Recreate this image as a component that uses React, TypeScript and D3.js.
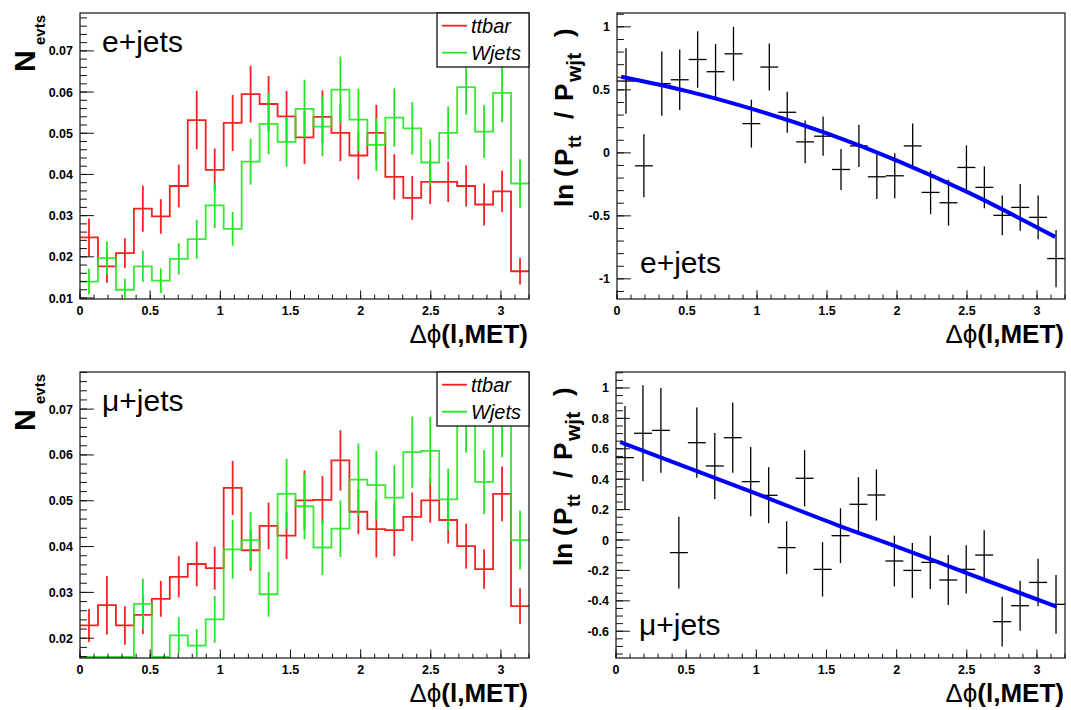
import React from "react";
import * as d3 from "d3";

// ---------- data ----------
const binLow = [0, 0.128, 0.256, 0.384, 0.512, 0.64, 0.768, 0.896, 1.024, 1.152, 1.28, 1.408, 1.536, 1.664, 1.792, 1.92, 2.048, 2.176, 2.304, 2.432, 2.56, 2.688, 2.816, 2.944, 3.072];
const binWidth = 0.128;

const eTtbar = [0.0247, 0.0177, 0.0209, 0.0317, 0.0298, 0.0372, 0.0532, 0.0411, 0.0525, 0.0595, 0.0571, 0.0541, 0.049, 0.054, 0.0501, 0.0446, 0.0501, 0.0394, 0.0343, 0.0382, 0.0382, 0.0372, 0.0327, 0.0359, 0.0165];
const eTtbarErr = [0.0046, 0.004, 0.0036, 0.0056, 0.0042, 0.0052, 0.0071, 0.0052, 0.0068, 0.0069, 0.0068, 0.0062, 0.0065, 0.0064, 0.0069, 0.0058, 0.0068, 0.0055, 0.0053, 0.0054, 0.0049, 0.005, 0.0051, 0.005, 0.0032];
const eWjets = [0.014, 0.0197, 0.012, 0.0177, 0.0142, 0.0195, 0.0243, 0.0325, 0.0268, 0.0431, 0.0523, 0.0479, 0.0559, 0.0516, 0.0606, 0.0533, 0.0472, 0.0538, 0.0512, 0.0429, 0.0501, 0.0612, 0.0504, 0.0598, 0.0378];
const eWjetsErr = [0.0031, 0.004, 0.0027, 0.0038, 0.003, 0.0038, 0.0047, 0.0055, 0.0041, 0.0056, 0.0074, 0.006, 0.0071, 0.0072, 0.008, 0.0075, 0.0064, 0.0071, 0.0064, 0.0056, 0.0064, 0.0067, 0.0064, 0.0071, 0.0059];

const muTtbar = [0.0228, 0.0272, 0.0228, 0.0251, 0.0286, 0.0334, 0.0362, 0.0353, 0.0528, 0.0392, 0.0445, 0.0424, 0.0501, 0.0502, 0.0588, 0.0476, 0.0438, 0.0436, 0.0465, 0.0501, 0.0458, 0.0401, 0.0351, 0.0515, 0.027];
const muTtbarErr = [0.0036, 0.0064, 0.0042, 0.0042, 0.0039, 0.0045, 0.0049, 0.0047, 0.0059, 0.0045, 0.0051, 0.0051, 0.0065, 0.0052, 0.0066, 0.0049, 0.0062, 0.0057, 0.0053, 0.0049, 0.0051, 0.0049, 0.0043, 0.006, 0.0039];
const muWjets = [0.011, 0.0105, 0.012, 0.0275, 0.012, 0.0206, 0.0184, 0.0241, 0.0394, 0.0414, 0.0296, 0.0515, 0.0488, 0.0398, 0.0439, 0.0546, 0.0534, 0.0507, 0.0606, 0.0609, 0.0503, 0.068, 0.0541, 0.067, 0.0414];
const muWjetsErr = [0.003, 0.003, 0.003, 0.0055, 0.003, 0.004, 0.0036, 0.0051, 0.0064, 0.0062, 0.0049, 0.0077, 0.0072, 0.006, 0.0062, 0.0079, 0.0075, 0.007, 0.0078, 0.0074, 0.0067, 0.0075, 0.007, 0.0075, 0.0064];

const eRatio = [0.57, -0.103, 0.549, 0.58, 0.741, 0.644, 0.786, 0.232, 0.681, 0.322, 0.087, 0.132, -0.132, 0.055, -0.19, -0.182, 0.055, -0.314, -0.396, -0.116, -0.274, -0.496, -0.433, -0.512, -0.839];
const eRatioErr = [0.26, 0.25, 0.255, 0.24, 0.224, 0.22, 0.214, 0.19, 0.187, 0.163, 0.17, 0.156, 0.163, 0.168, 0.177, 0.178, 0.177, 0.173, 0.182, 0.175, 0.166, 0.158, 0.185, 0.174, 0.227];
const eFitX = [0.03, 0.5, 1.0, 1.5, 2.0, 2.5, 3.13];
const eFitY = [0.604, 0.49, 0.337, 0.154, -0.062, -0.31, -0.667];

const muRatio = [0.542, 0.702, 0.721, -0.083, 0.64, 0.487, 0.673, 0.384, 0.294, -0.05, 0.406, -0.193, 0.0285, 0.235, 0.296, -0.138, -0.2, -0.147, -0.263, -0.193, -0.099, -0.537, -0.432, -0.279, -0.423];
const muRatioErr = [0.34, 0.316, 0.278, 0.236, 0.231, 0.217, 0.231, 0.227, 0.184, 0.173, 0.185, 0.179, 0.18, 0.178, 0.168, 0.167, 0.181, 0.175, 0.164, 0.159, 0.164, 0.164, 0.164, 0.156, 0.193];
const muFitX = [0.03, 1.0, 1.6, 2.0, 2.5, 3.14];
const muFitY = [0.643, 0.305, 0.09, -0.043, -0.217, -0.439];

// ---------- ticks ----------
const xMajorTicks = [0, 0.5, 1, 1.5, 2, 2.5, 3];
const xTickLabels = ["0", "0.5", "1", "1.5", "2", "2.5", "3"];
const nTopTicks = [0.01, 0.02, 0.03, 0.04, 0.05, 0.06, 0.07];
const nTopLabels = ["0.01", "0.02", "0.03", "0.04", "0.05", "0.06", "0.07"];
const nBotTicks = [0.02, 0.03, 0.04, 0.05, 0.06, 0.07];
const nBotLabels = ["0.02", "0.03", "0.04", "0.05", "0.06", "0.07"];
const lnTopTicks = [-1, -0.5, 0, 0.5, 1];
const lnTopLabels = ["-1", "-0.5", "0", "0.5", "1"];
const lnBotTicks = [-0.6, -0.4, -0.2, 0, 0.2, 0.4, 0.6, 0.8, 1];
const lnBotLabels = ["-0.6", "-0.4", "-0.2", "0", "0.2", "0.4", "0.6", "0.8", "1"];

const FONT = "'Liberation Sans', Arial, Helvetica, sans-serif";
const RED = "#f52020";
const GREEN = "#22e622";
const X_DOMAIN: [number, number] = [0, 3.2];

type Frame = { x0: number; x1: number; y0: number; y1: number };

function minorTicks(domain: [number, number], step: number) {
  const out: number[] = [];
  const s = Math.ceil(domain[0] / step - 1e-6);
  for (let k = s; k * step <= domain[1] + 1e-9; k++) out.push(k * step);
  return out;
}

function Axes(props: {
  fr: Frame; xs: any; ys: any; yTicks: number[]; yLabels: string[]; yMinorStep: number; yDomain: [number, number];
}) {
  const { fr, xs, ys, yTicks, yLabels, yMinorStep, yDomain } = props;
  const H = fr.y1 - fr.y0;
  const W = fr.x1 - fr.x0;
  const yMaj = W * 0.031;
  const xMaj = H * 0.03;
  return (
    <g>
      <rect x={fr.x0} y={fr.y0} width={W} height={H} fill="none" stroke="#111" strokeWidth={1.2} />
      {minorTicks(yDomain, yMinorStep).map((v, i) => (
        <line key={"ym" + i} x1={fr.x0} x2={fr.x0 + yMaj / 2} y1={ys(v)} y2={ys(v)} stroke="#111" strokeWidth={1} />
      ))}
      {yTicks.map((v, i) => (
        <g key={"yM" + i}>
          <line x1={fr.x0} x2={fr.x0 + yMaj} y1={ys(v)} y2={ys(v)} stroke="#111" strokeWidth={1} />
          <text x={fr.x0 - 7} y={ys(v)} dy="0.36em" textAnchor="end" fontSize={12.5} fontWeight="bold" fontFamily={FONT}>{yLabels[i]}</text>
        </g>
      ))}
      {minorTicks(X_DOMAIN, 0.1).map((v, i) => (
        <line key={"xm" + i} x1={xs(v)} x2={xs(v)} y1={fr.y1} y2={fr.y1 - xMaj / 2} stroke="#111" strokeWidth={1} />
      ))}
      {xMajorTicks.map((v, i) => (
        <g key={"xM" + i}>
          <line x1={xs(v)} x2={xs(v)} y1={fr.y1} y2={fr.y1 - xMaj} stroke="#111" strokeWidth={1} />
          <text x={xs(v)} y={fr.y1 + 15.5} textAnchor="middle" fontSize={12.5} fontWeight="bold" fontFamily={FONT}>{xTickLabels[i]}</text>
        </g>
      ))}
      <text x={fr.x1 - 1} y={fr.y1 + 44} textAnchor="end" fontSize={26} fontWeight="bold" fontFamily={FONT}>
        <tspan fontWeight="normal">Δϕ</tspan>(l,MET)
      </text>
    </g>
  );
}

function HistPanel(props: {
  id: string; fr: Frame; yDomain: [number, number]; yTicks: number[]; yLabels: string[]; label: string;
  tt: number[]; ttErr: number[]; wj: number[]; wjErr: number[];
}) {
  const { id, fr, yDomain, yTicks, yLabels, label, tt, ttErr, wj, wjErr } = props;
  const xs = d3.scaleLinear().domain(X_DOMAIN).range([fr.x0, fr.x1]);
  const ys = d3.scaleLinear().domain(yDomain).range([fr.y1 - 1, fr.y0]).clamp(true);
  const step = (vals: number[]) => {
    const pts: [number, number][] = binLow.map((lo, i) => [lo, vals[i]]);
    pts.push([binLow[binLow.length - 1] + binWidth, vals[vals.length - 1]]);
    return d3.line<[number, number]>().x((d) => xs(d[0])).y((d) => ys(d[1])).curve(d3.curveStepAfter)(pts) || "";
  };
  const errs = (vals: number[], err: number[], color: string) =>
    binLow.map((lo, i) => {
      if (vals[i] + err[i] < yDomain[0]) return null;
      const c = xs(lo + binWidth / 2);
      return <line key={color + i} x1={c} x2={c} y1={ys(vals[i] - err[i])} y2={ys(vals[i] + err[i])} stroke={color} strokeWidth={1.8} />;
    });
  return (
    <g>
      <clipPath id={id}>
        <rect x={fr.x0} y={fr.y0} width={fr.x1 - fr.x0} height={fr.y1 - fr.y0} />
      </clipPath>
      <g clipPath={`url(#${id})`}>
        <path d={step(tt)} fill="none" stroke={RED} strokeWidth={1.8} />
        {errs(tt, ttErr, RED)}
        <path d={step(wj)} fill="none" stroke={GREEN} strokeWidth={1.8} opacity={0.9} />
        {errs(wj, wjErr, GREEN)}
      </g>
      <Axes fr={fr} xs={xs} ys={ys} yTicks={yTicks} yLabels={yLabels} yMinorStep={0.002} yDomain={yDomain} />
      <text x={fr.x0 + 22} y={fr.y0 + 39} fontSize={30} fontFamily={FONT}>{label}</text>
      <g>
        <rect x={fr.x1 - 92} y={fr.y0} width={92} height={54} fill="#fff" stroke="#111" strokeWidth={1.3} />
        <line x1={fr.x1 - 87} x2={fr.x1 - 62} y1={fr.y0 + 12.7} y2={fr.y0 + 12.7} stroke={RED} strokeWidth={1.8} />
        <text x={fr.x1 - 58} y={fr.y0 + 19.5} fontSize={20} fontStyle="italic" fontFamily={FONT}>ttbar</text>
        <line x1={fr.x1 - 87} x2={fr.x1 - 62} y1={fr.y0 + 39.7} y2={fr.y0 + 39.7} stroke={GREEN} strokeWidth={1.8} />
        <text x={fr.x1 - 58} y={fr.y0 + 46.5} fontSize={20} fontStyle="italic" fontFamily={FONT}>Wjets</text>
      </g>
      <text transform={`translate(${fr.x0 - 45},${fr.y0 + 59}) rotate(-90)`} fontSize={30} fontWeight="bold" fontFamily={FONT}>
        <tspan x={0} y={0}>N</tspan>
        <tspan x={27} y={10} fontSize={15}>evts</tspan>
      </text>
    </g>
  );
}

function RatioPanel(props: {
  id: string; fr: Frame; yDomain: [number, number]; yTicks: number[]; yLabels: string[]; yMinorStep: number; label: string;
  vals: number[]; err: number[]; fitX: number[]; fitY: number[]; labelY: number;
}) {
  const { id, fr, yDomain, yTicks, yLabels, yMinorStep, label, vals, err, fitX, fitY, labelY } = props;
  const xs = d3.scaleLinear().domain(X_DOMAIN).range([fr.x0, fr.x1]);
  const ys = d3.scaleLinear().domain(yDomain).range([fr.y1, fr.y0]).clamp(true);
  const fit = d3.line<number>().x((d) => xs(d)).y((_, i) => ys(fitY[i])).curve(d3.curveMonotoneX)(fitX) || "";
  return (
    <g>
      <clipPath id={id}>
        <rect x={fr.x0} y={fr.y0} width={fr.x1 - fr.x0} height={fr.y1 - fr.y0} />
      </clipPath>
      <g clipPath={`url(#${id})`}>
        {binLow.map((lo, i) => (
          <g key={i}>
            <line x1={xs(lo)} x2={xs(lo + binWidth)} y1={ys(vals[i])} y2={ys(vals[i])} stroke="#000" strokeWidth={1.3} />
            <line x1={xs(lo + binWidth / 2)} x2={xs(lo + binWidth / 2)} y1={ys(vals[i] - err[i])} y2={ys(vals[i] + err[i])} stroke="#000" strokeWidth={1.3} />
          </g>
        ))}
        <path d={fit} fill="none" stroke="#0000ff" strokeWidth={4} />
      </g>
      <Axes fr={fr} xs={xs} ys={ys} yTicks={yTicks} yLabels={yLabels} yMinorStep={yMinorStep} yDomain={yDomain} />
      <text x={fr.x0 + 23} y={labelY} fontSize={30} fontFamily={FONT}>{label}</text>
      <text transform={`translate(${fr.x0 - 44},${fr.y0 + 194}) rotate(-90)`} fontSize={26} fontWeight="bold" fontFamily={FONT}>
        <tspan x={0} y={0}>ln</tspan>
        <tspan x={30} y={0}>(</tspan>
        <tspan x={41} y={0}>P</tspan>
        <tspan x={59} y={8} fontSize={19}>tt</tspan>
        <tspan x={88} y={0}>/</tspan>
        <tspan x={106} y={0}>P</tspan>
        <tspan x={125} y={8} fontSize={21}>wjt</tspan>
        <tspan x={170} y={0}>)</tspan>
      </text>
    </g>
  );
}

export default function App() {
  return (
    <svg width={1071} height={710} style={{ position: "absolute", left: 0, top: 0, background: "#fff" }}>
      <rect x={0} y={0} width={1071} height={710} fill="#fff" />
      <HistPanel id="c1" fr={{ x0: 80, x1: 529, y0: 13, y1: 299 }} yDomain={[0.01, 0.0792]} yTicks={nTopTicks} yLabels={nTopLabels}
        label="e+jets" tt={eTtbar} ttErr={eTtbarErr} wj={eWjets} wjErr={eWjetsErr} />
      <HistPanel id="c2" fr={{ x0: 80, x1: 529, y0: 372, y1: 658 }} yDomain={[0.0159, 0.0781]} yTicks={nBotTicks} yLabels={nBotLabels}
        label="μ+jets" tt={muTtbar} ttErr={muTtbarErr} wj={muWjets} wjErr={muWjetsErr} />
      <RatioPanel id="c3" fr={{ x0: 617, x1: 1065, y0: 13, y1: 299 }} yDomain={[-1.16, 1.11]} yTicks={lnTopTicks} yLabels={lnTopLabels}
        yMinorStep={0.1} label="e+jets" vals={eRatio} err={eRatioErr} fitX={eFitX} fitY={eFitY} labelY={273} />
      <RatioPanel id="c4" fr={{ x0: 616, x1: 1065, y0: 372, y1: 658 }} yDomain={[-0.776, 1.105]} yTicks={lnBotTicks} yLabels={lnBotLabels}
        yMinorStep={0.05} label="μ+jets" vals={muRatio} err={muRatioErr} fitX={muFitX} fitY={muFitY} labelY={635} />
    </svg>
  );
}
